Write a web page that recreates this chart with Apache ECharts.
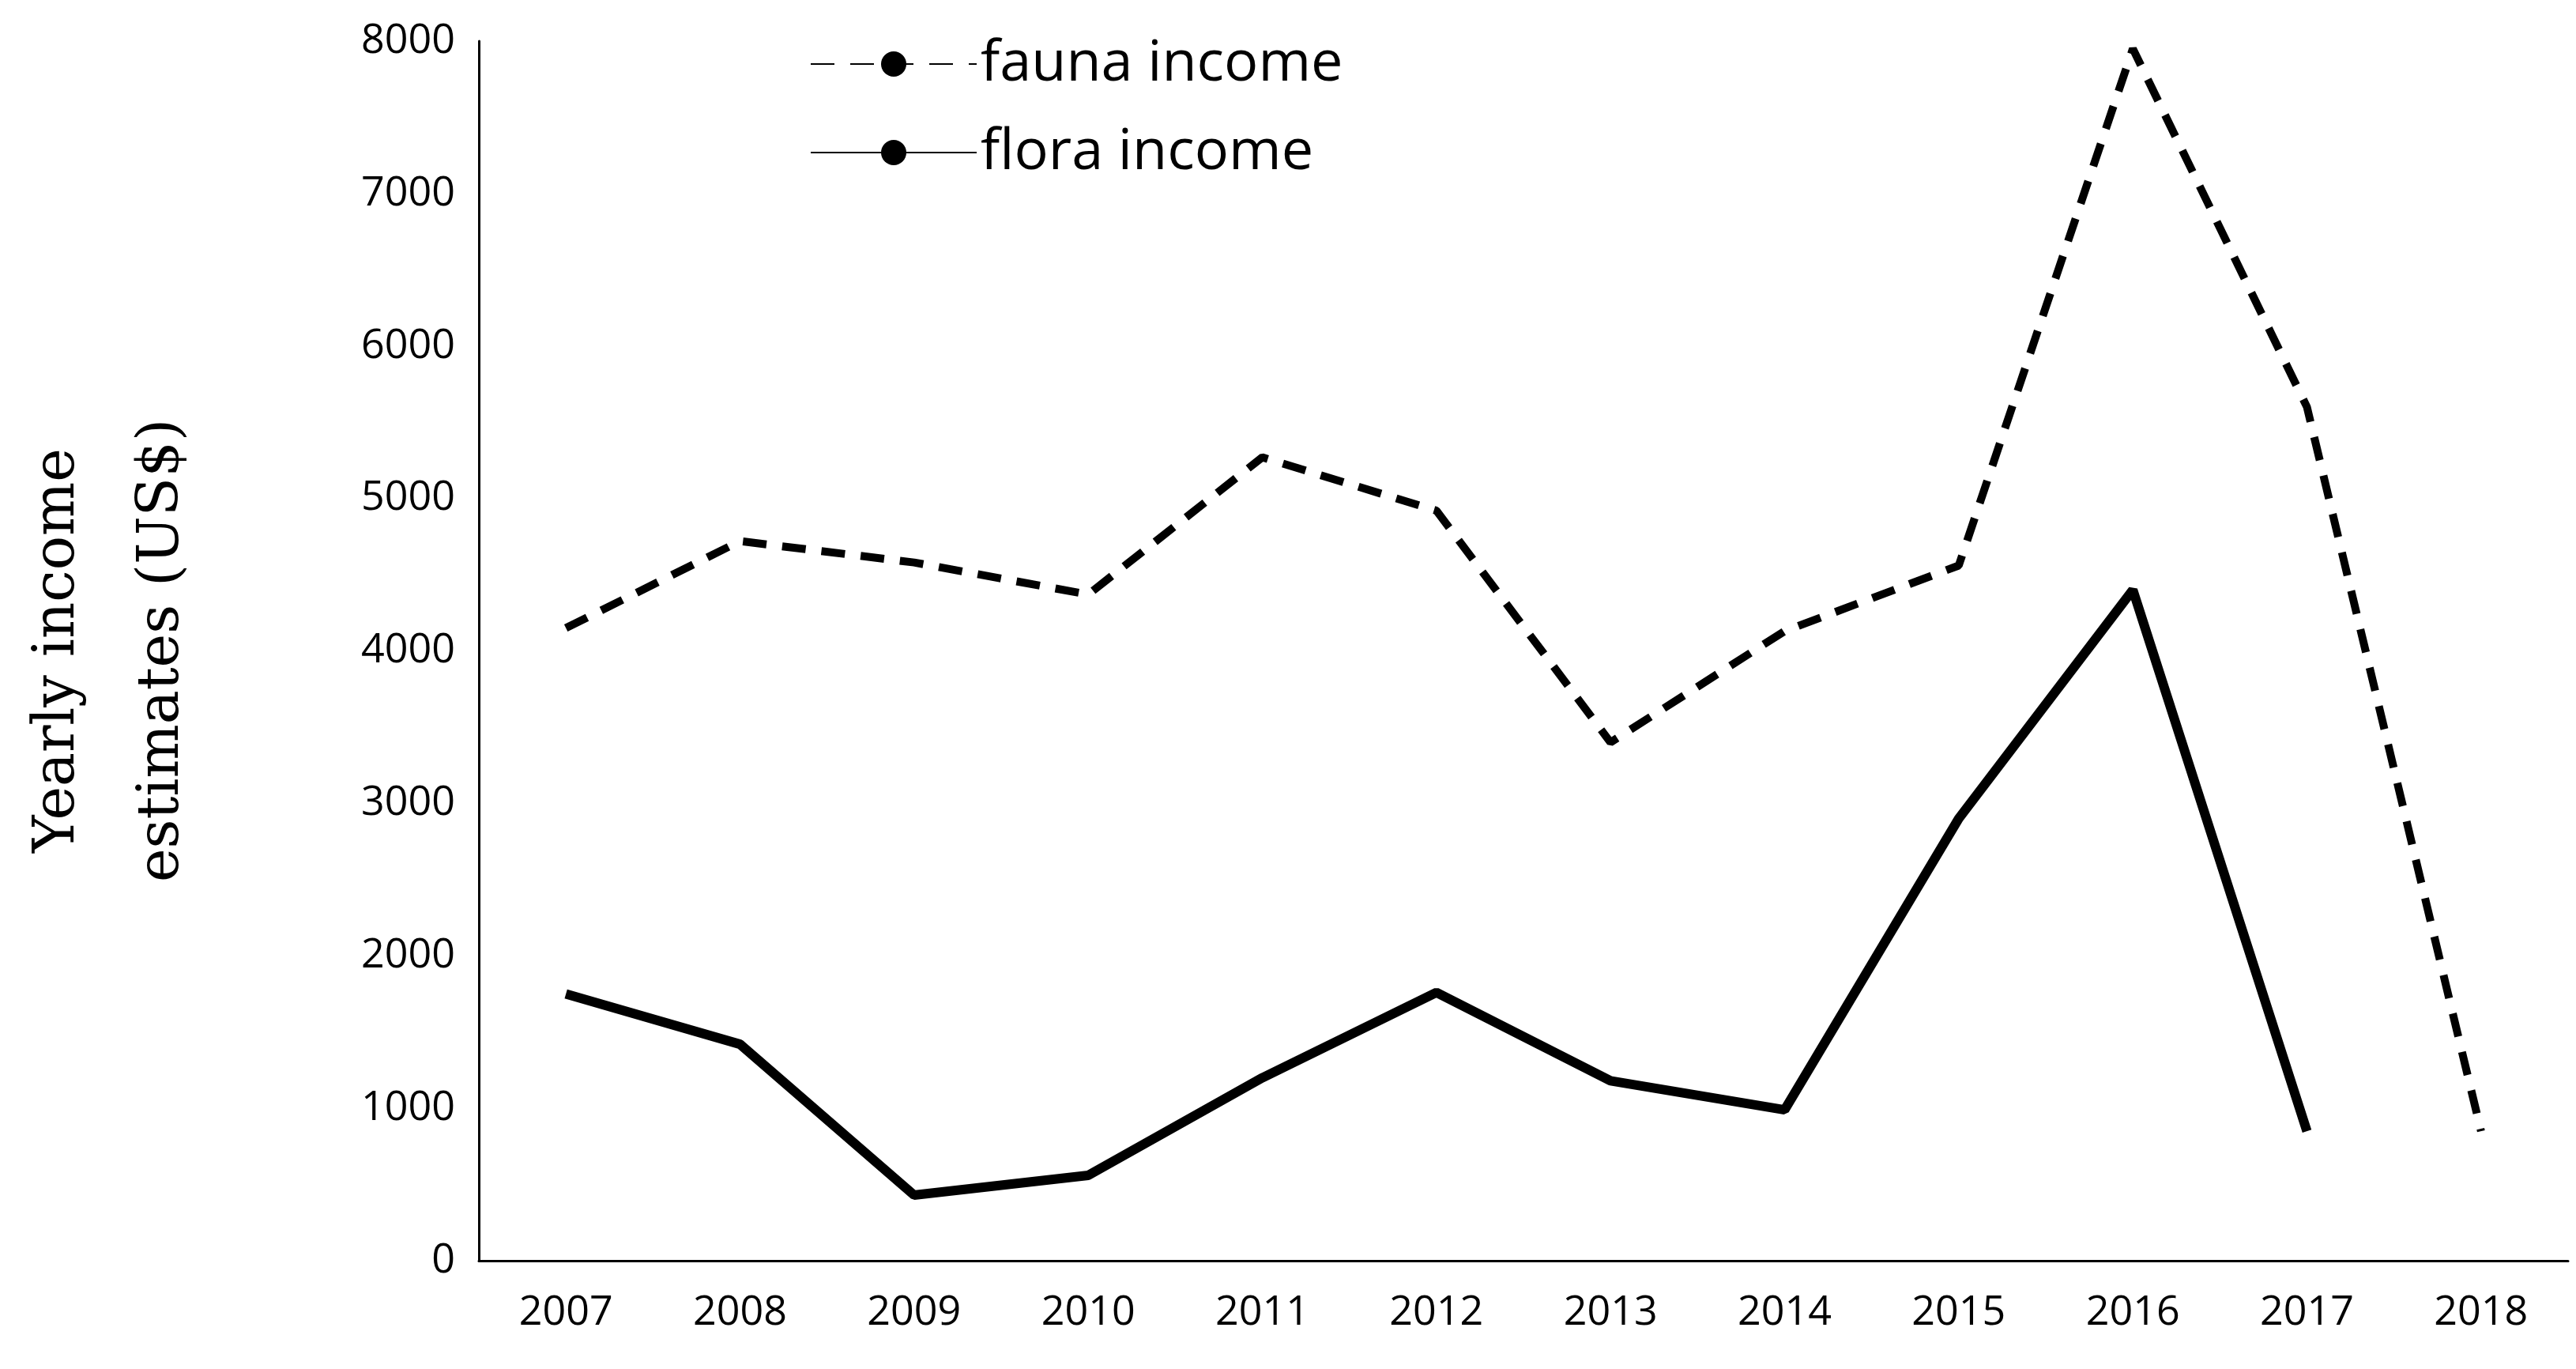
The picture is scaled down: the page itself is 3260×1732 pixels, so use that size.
<!DOCTYPE html>
<html><head><meta charset="utf-8">
<script src="https://cdn.jsdelivr.net/npm/echarts@6/dist/echarts.min.js"></script>
<style>html,body{margin:0;background:#fff}#c{width:3260px;height:1732px}</style>
</head><body><div id="c"></div>
<script>
const years = ['2007','2008','2009','2010','2011','2012','2013','2014','2015','2016','2017','2018'];
const fauna = [4150,4720,4580,4370,5270,4920,3400,4130,4560,7950,5600,850];
const flora = [1750,1420,430,560,1200,1760,1180,990,2900,4400,850,null];
const yTicks = [0,1000,2000,3000,4000,5000,6000,7000,8000];
const chart = echarts.init(document.getElementById('c'));
const font = 'Open Sans';
chart.setOption({
  animation:false,
  grid:{left:606,right:10,top:52,bottom:137},
  legend:{orient:'vertical',left:1020,top:40,itemWidth:210,itemHeight:40,itemGap:40,
    textStyle:{fontFamily:font,fontSize:72,color:'#000'},
    data:['fauna income','flora income']},
  graphic:[{type:'text',x:140,y:823,rotation:Math.PI/2,
    style:{text:'Yearly income\nestimates (US$)',fontFamily:'DejaVu Serif',fontSize:72,lineHeight:132,
    align:'center',verticalAlign:'middle',fill:'#000'}}],
  xAxis:{type:'category',data:years,boundaryGap:true,
    axisLine:{lineStyle:{color:'#000',width:3}},axisTick:{show:false},
    axisLabel:{fontFamily:font,fontSize:52,color:'#000',margin:40}},
  yAxis:{type:'value',min:0,max:8000,interval:1000,splitLine:{show:false},
    axisLine:{show:true,lineStyle:{color:'#000',width:3}},axisTick:{show:false},
    axisLabel:{fontFamily:font,fontSize:52,color:'#000',margin:30,
      formatter:v=>yTicks.includes(v)?String(v):''}},
  series:[
    {name:'fauna income',type:'line',data:fauna,symbol:'none',
      lineStyle:{color:'#000',width:10,type:[30,20]},itemStyle:{color:'#000'}},
    {name:'flora income',type:'line',data:flora,symbol:'none',
      lineStyle:{color:'#000',width:12},itemStyle:{color:'#000'}}
  ]
});
</script></body></html>
